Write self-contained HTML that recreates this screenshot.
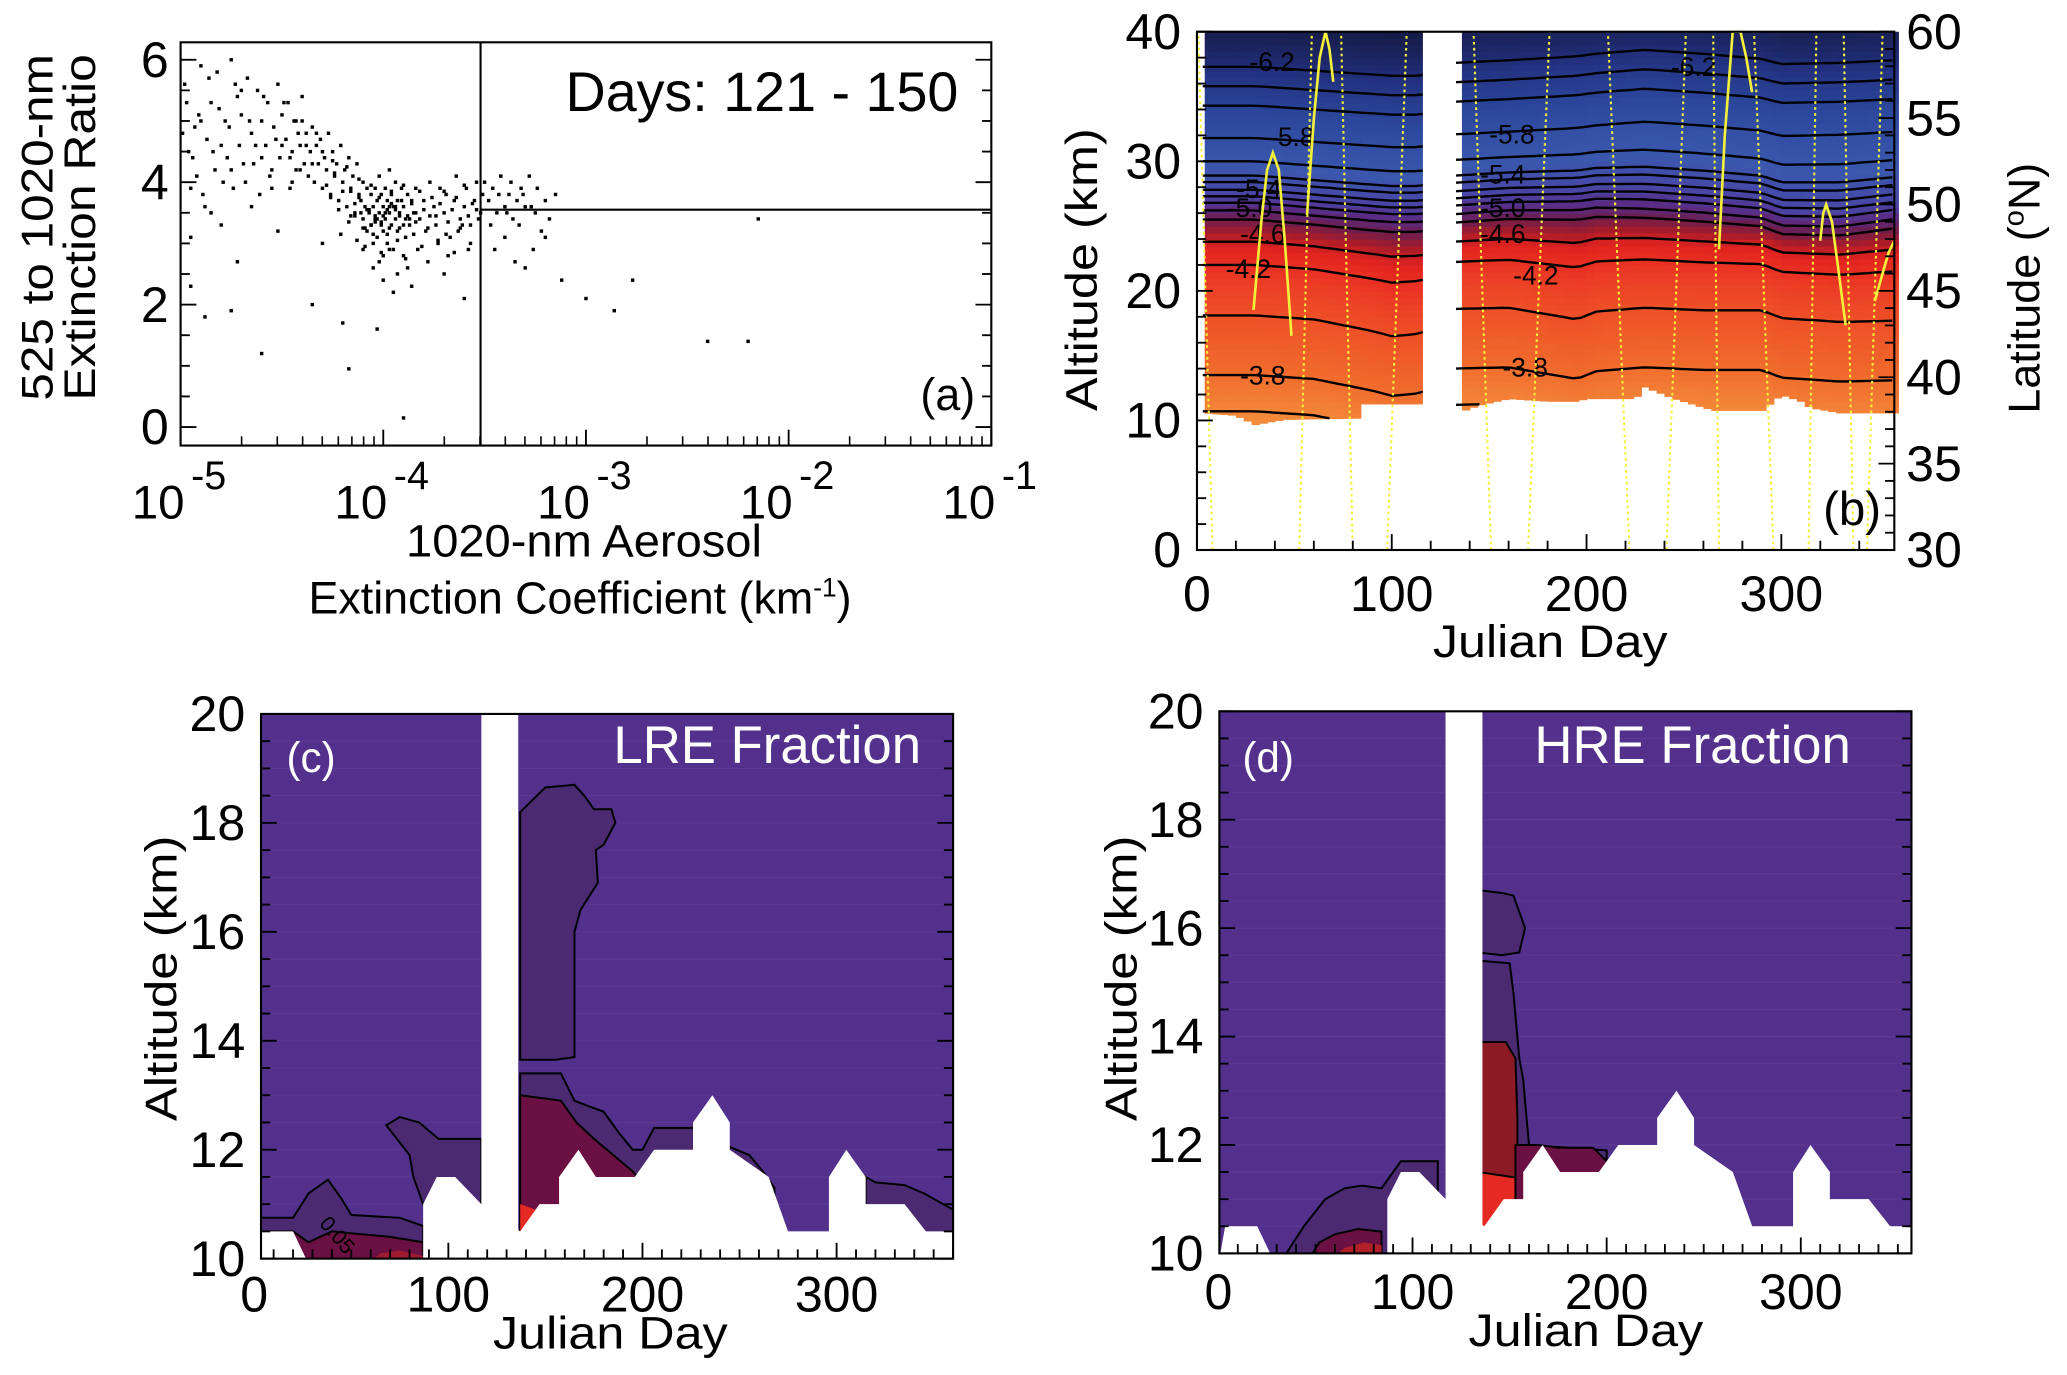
<!DOCTYPE html>
<html><head><meta charset="utf-8"><style>
html,body{margin:0;padding:0;background:#fff;}
svg{display:block;}
text{font-family:"Liberation Sans Narrow","Liberation Sans",sans-serif;fill:#000;}
.reg{font-family:"Liberation Sans",sans-serif;}
</style></head><body>
<svg id="fig" width="2067" height="1375" viewBox="0 0 1568 1040" preserveAspectRatio="none" xmlns="http://www.w3.org/2000/svg">
<defs>
<clipPath id="clipc"><rect x="198" y="540" width="525" height="412"/></clipPath>
<clipPath id="clipd"><rect x="925" y="538" width="525" height="410"/></clipPath>
</defs>
<rect x="0" y="0" width="1568" height="1040" fill="#fff"/>
<g id="pa"></g>
<g id="pb"></g>
<g id="pc"></g>
<g id="pd"></g>
</svg>
<script>
// ---------- Panel (a) data ----------
const logExt = [-4.98,-4.96,-4.95,-4.93,-4.92,-4.9,-4.88,-4.87,-4.85,-4.83,-4.82,-4.8,-4.78,-4.77,-4.75,-4.74,-4.72,-4.71,-4.7,-4.68,-4.67,-4.65,-4.64,-4.62,-4.61,-4.6,-4.58,-4.57,-4.55,-4.54,-4.52,-4.51,-4.5,-4.48,-4.47,-4.46,-4.45,-4.44,-4.43,-4.42,
-4.41,-4.4,-4.39,-4.38,-4.37,-4.36,-4.35,-4.34,-4.33,-4.32,-4.31,-4.3,-4.29,-4.28,-4.27,-4.26,-4.25,-4.24,-4.23,-4.22,-4.21,-4.2,-4.19,-4.18,-4.17,-4.16,-4.15,-4.14,-4.13,-4.12,
-4.11,-4.1,-4.1,-4.09,-4.08,-4.08,-4.07,-4.06,-4.06,-4.05,-4.05,-4.04,-4.04,-4.03,-4.03,-4.02,-4.02,-4.01,-4.01,-4.0,-4.0,-4.0,-3.99,-3.99,-3.98,-3.98,-3.97,-3.97,-3.96,-3.96,-3.95,-3.95,-3.94,-3.94,-3.93,-3.93,-3.92,-3.91,-3.9,-3.9,-3.89,-3.88,-3.87,-3.86,-3.85,
-3.84,-3.82,-3.8,-3.79,-3.77,-3.75,-3.74,-3.72,-3.7,-3.69,-3.67,-3.65,-3.64,-3.62,-3.6,-3.59,-3.57,-3.55,-3.54,-3.52,-3.51,-3.83,-3.78,-3.73,-3.68,-3.63,-3.58,-3.53,
-3.48,-3.46,-3.44,-3.42,-3.4,-3.38,-3.36,-3.34,-3.32,-3.3,-3.28,-3.25,-3.22,-3.45,-3.4,-3.35,-3.3,-3.26,
-4.05,-4.0,-3.97,-3.93,-3.9,-4.1,-3.95,-3.88,-4.02,-3.86,
-4.88,-4.75,-4.6,-4.35,-4.2,-4.17,-4.03,-3.9,-3.6,-3.7,-3.12,-3.0,-2.86,-2.77,-2.4,-2.2,-2.15,-3.2,-4.3,-4.72,-4.95,-4.52,
-4.14,-4.07,-4.01,-3.96,-3.92,-4.12,-4.06,-3.99,-3.94,-3.89,-4.09,-4.04,-3.98,-3.91,-3.87,-4.16,-4.11,-4.03,-3.97,-3.84,
-4.28,-4.26,-4.24,-4.22,-4.2,-4.18,-4.16,-4.14,-4.12,-4.1,-4.08,-4.06,-4.04,-4.02,-4.0,-3.98,-3.96,-3.94,-3.92,-3.9,-3.88,-3.86,-3.84,-3.82,-3.8,-3.78,-3.76,-3.74,-3.72,-3.7,-3.68,-3.66,-3.64,-3.62,-3.6,-3.58,-3.56,-3.54,
-4.25,-4.21,-4.17,-4.13,-4.09,-4.05,-4.01,-3.97,-3.93,-3.89,-3.85,-3.81,-3.77,-3.73,-3.69,-3.65,-3.61,-3.57,
-4.99,-4.97,-4.94,-4.91,-4.89,-4.86,-4.84,-4.81,-4.79,-4.76,-4.73,-4.69,-4.66,-4.63,-4.59,-4.56,-4.53,-4.49,-4.46,-4.43,-4.41,-4.38,-4.35,-4.33,-4.3,-4.95,-4.85,-4.75,-4.65,-4.55,-4.45,-4.9,-4.8,-4.7,-4.6,-4.5,-4.4,
-3.5,-3.47,-3.43,-3.39,-3.37,-3.33,-3.31,-3.27,-3.24,-3.2,-3.18,-3.15];
const ratio = [5.6,4.5,3.1,4.9,4.1,5.9,3.6,4.7,5.3,4.2,5.8,3.3,5.0,4.4,6.0,3.9,5.4,4.6,5.1,4.0,5.7,4.8,4.3,5.5,3.8,5.0,4.6,5.3,4.2,4.9,5.6,4.4,5.1,4.7,5.3,3.9,4.5,5.0,4.2,4.8,
4.6,5.0,4.3,4.8,4.1,4.5,4.9,4.0,4.6,4.3,4.7,3.9,4.4,4.2,4.8,3.8,4.5,4.1,4.3,3.7,4.6,4.0,4.2,3.6,4.4,3.9,4.1,3.5,4.3,3.8,
3.7,3.4,4.0,3.6,3.2,3.9,3.5,3.8,3.3,3.6,3.0,3.9,3.4,3.7,3.1,3.5,4.1,3.3,3.8,3.6,3.2,2.8,3.9,3.4,3.7,3.0,3.5,4.2,3.3,3.8,3.6,2.9,3.4,4.0,3.7,3.2,3.5,3.9,3.3,3.6,3.1,3.8,3.4,3.7,3.5,
3.9,3.4,3.7,3.2,4.0,3.6,3.3,3.9,3.5,3.8,3.1,3.7,4.1,3.4,3.6,3.9,3.3,3.7,4.0,3.5,3.8,2.9,2.7,3.0,2.8,3.2,2.9,3.4,
3.7,3.9,3.5,4.1,3.6,3.8,3.4,3.7,3.9,3.6,4.1,3.5,3.2,2.9,3.1,2.7,2.6,2.9,
2.6,2.4,2.9,2.5,2.8,2.9,2.2,2.6,2.7,2.3,
1.8,1.9,1.2,2.0,1.7,0.95,1.6,0.15,2.1,2.5,2.4,2.1,1.9,2.4,1.4,1.4,3.4,3.1,3.0,2.7,2.3,3.2,
3.45,3.55,3.35,3.65,3.45,3.75,3.3,3.5,3.6,3.4,3.25,3.45,3.55,3.7,3.3,3.85,3.5,3.4,3.6,3.5,
3.95,3.75,4.15,3.55,3.85,4.25,3.45,3.65,4.05,3.25,3.55,3.95,3.35,3.75,3.45,3.15,3.85,3.55,3.25,3.95,3.45,3.65,3.35,3.85,3.55,3.25,3.75,3.45,3.65,3.85,3.35,3.55,3.75,3.25,3.95,3.45,3.65,3.55,
4.35,3.15,3.35,3.05,2.95,3.15,2.85,3.25,3.05,2.75,3.15,2.95,3.45,3.05,3.15,2.85,3.3,3.0,
4.8,5.3,4.4,5.1,3.8,5.7,4.5,5.2,4.0,4.9,5.6,4.3,5.0,4.6,5.4,4.1,4.7,5.3,4.4,5.0,4.2,4.6,4.3,4.8,4.5,3.9,3.5,4.2,3.6,3.9,4.0,5.0,4.6,5.5,4.4,4.6,5.4,
4.0,3.3,3.8,3.5,4.0,3.3,3.8,3.6,3.9,3.7,3.4,3.8];
const xDecades = [-5,-4,-3,-2,-1];
const yTicksA = [0,2,4,6];
const thresholdLogExt = -3.52;
const thresholdRatio = 3.55;

// ---------- Panel (b) data ----------
const profileAlts   = [9,11,13,15,17,19,21,22.5,24,25,26,26.8,27.5,28.5,30,32,34,36,38,40.5];
const profileValues = [-3.55,-3.65,-3.75,-3.85,-3.95,-4.05,-4.15,-4.3,-4.5,-4.7,-4.9,-5.05,-5.2,-5.35,-5.55,-5.75,-5.95,-6.1,-6.3,-6.5];
const shiftDays = [0,30,60,90,100,115,132,160,195,205,230,260,290,300,330,358];
const shiftLow  = [0,0,-0.3,-1.2,-1.6,-1.4,0.5,0.6,-0.3,0.3,0.6,0.4,0.4,-0.2,-0.5,-0.4];
const shiftMid  = [0,0,-0.4,-0.8,-0.9,-0.9,-0.3,0,0,0.2,0.1,-0.2,-0.6,-1.2,-1.3,-0.7];
const shiftHigh = [0,0,-0.3,-0.6,-0.7,-0.7,0.3,0.5,0.8,1.0,1.3,1.0,0.6,0.2,0.3,0.5];
const contourAlts = [10.7,13.5,18.1,22.0,23.8,25.5,26.2,26.8,27.3,27.8,28.4,28.9,30.0,31.8,34.3,35.8,37.3];
const bBoundDays = [0,4,20,30,45,85,86,115,132,145,160,180,195,200,225,230,245,265,290,300,310,315,330,358];
const bBoundAlts = [10.6,10.6,10.4,9.7,10.1,10.2,11.3,11.3,10.5,11.2,11.7,11.5,11.5,11.7,11.7,12.6,11.7,10.8,10.8,12.0,11.5,11.0,10.6,10.6];
const gapDays = [116,133];
const labelText = ["-6.2","-5.8","-5.4","-5.0","-4.6","-4.2","-3.8","-5.8","-5.4","-5.0","-4.6","-4.2","-3.8","-6.2"];
const labelDay  = [38.6,48.7,31.8,27,33.8,26.4,33.8,161.7,157,157,157,174,168.5,255];
const labelAlt  = [37.7,31.9,27.9,26.4,24.4,21.7,13.5,32.1,29,26.4,24.4,21.2,14.1,37.3];
const trackBottomDay = [8,52.5,80,97.6,151,170,222,241,268,296,314,337,344];
const trackTopDay    = [0.7,59,74,107.7,142,181,211,251,265,286,318,332,352];
const arch1Day=[29,33,36,39,42,45,48.5], arch1Lat=[43.9,49,52,53,52,48,42.4];
const arch2Day=[56.5,60,63,66,68,70], arch2Lat=[49.4,55,58.5,60,59,57.1];
const arch3Day=[268,271,275,279,282,285], arch3Lat=[47.4,54,60,60,58.5,56.5];
const arch4Day=[320,321.5,323,326,329,333], arch4Lat=[47.9,49.5,50,49,46.5,43];
const arch5Day=[348,352,355,358], arch5Lat=[44.4,46,47.2,47.9];
const bXTicks=[0,100,200,300], bYTicks=[0,10,20,30,40], latTicks=[30,35,40,45,50,55,60];

// ---------- Panels (c),(d) data ----------
const fBoundDays = [3.5,20,28,87,87,94,103.5,117,137,147,157,157,167,176,196,206,226,226,236,245,245,265,275,296,296,305,315,315,335,346,360];
const fBoundAlts = [10.5,10.5,9.9,9.9,11.0,11.5,11.5,11.0,10.5,11.0,11.0,11.5,12.0,11.5,11.5,12.0,12.0,12.5,13.0,12.5,12.0,11.5,10.5,10.5,11.5,12.0,11.5,11.0,11.0,10.5,10.5];
const fGap = [117,136];
const cDarkDays1 = [137,150,165,170,175,184,186,180,176,177,168,165,165,155,137];
const cDarkAlts1 = [18.2,18.65,18.7,18.5,18.25,18.25,18.0,17.6,17.5,16.9,16.4,16.0,13.7,13.65,13.65];
const cDarkDays2 = [137,158,165,172,180,188,195,200,206,226,245,255,262,268,268,137];
const cDarkAlts2 = [13.4,13.4,12.9,12.8,12.7,12.3,12.0,12.0,12.4,12.4,12.05,11.9,11.6,11.3,10,10];
const cRedDays = [137,158,166,175,185,195,200,200,137];
const cRedAlts = [13.0,12.9,12.5,12.2,11.9,11.6,11.4,10,10];
const cBrightDays = [137,145,158,160,160,137];
const cBrightAlts = [11.0,10.9,11.0,11.6,10,10];
const cLeftDays = [3.5,20,28,38,45,50,75,87,87,3.5];
const cLeftAlts = [10.75,10.75,11.2,11.45,11.1,10.8,10.75,10.6,9.8,9.8];
const cLeftRedDays = [3.5,20,28,40,55,70,87,87,3.5];
const cLeftRedAlts = [10.5,10.5,10.3,10.5,10.45,10.4,10.3,9.8,9.8];
const cLeftBrightDays = [55,65,75,87,87,55];
const cLeftBrightAlts = [9.8,10.1,10.15,10.05,9.8,9.8];
const cBlobDays = [68,75,85,95,117,117,103,87,82,80];
const cBlobAlts = [12.45,12.6,12.5,12.2,12.2,11.0,11.0,11.0,11.5,11.9];
const cRightDays = [315,320,335,345,360,360,315];
const cRightAlts = [11.5,11.4,11.35,11.2,10.9,10,10];
const dBlob1Days = [134,146,152,155,158,155,146,134];
const dBlob1Alts = [16.7,16.65,16.6,16.3,16.0,15.55,15.5,15.55];
const dBlob2Days = [134,150,152,155,157,158,160,200,200,134];
const dBlob2Alts = [15.4,15.35,14.8,13.6,13.2,12.8,12.0,11.9,10,10];
const dCoreDays = [134,148,153,154,154,134];
const dCoreAlts = [13.9,13.9,13.6,12.5,10,10];
const dMaroonDays = [153,165,175,193,200,200,153];
const dMaroonAlts = [12.0,12.0,11.95,11.95,11.7,10,10];
const dBrightDays = [134,153,153,134];
const dBrightAlts = [11.5,11.4,10,10];
const dLeftDays = [24,28,35,44,55,65,74,84,94,113,113,24];
const dLeftAlts = [10,9.85,10.0,10.5,11.0,11.2,11.25,11.2,11.7,11.7,9.8,9.8];
const dLeftRedDays = [45,52,60,72,84,84,45];
const dLeftRedAlts = [9.8,10.2,10.35,10.45,10.4,9.8,9.8];
const dLeftBrightDays = [55,65,75,84,84,55];
const dLeftBrightAlts = [9.8,10.1,10.2,10.15,9.8,9.8];
const fracXTicks=[0,100,200,300], fracYTicks=[10,12,14,16,18,20];

// ---------- helpers ----------
const NS="http://www.w3.org/2000/svg";
function mk(parent,tag,attrs){const e=document.createElementNS(NS,tag);for(const k in attrs)e.setAttribute(k,attrs[k]);parent.appendChild(e);return e;}
function txt(parent,s,x,y,size,anchor,extra){const e=mk(parent,'text',Object.assign({x:x,y:y,'font-size':size,'text-anchor':anchor||'middle'},extra||{}));e.textContent=s;return e;}
function interp(xs,ys,x){if(x<=xs[0])return ys[0];for(let i=1;i<xs.length;i++){if(x<=xs[i]){const t=(x-xs[i-1])/(xs[i]-xs[i-1]||1);return ys[i-1]+t*(ys[i]-ys[i-1]);}}return ys[ys.length-1];}
function hex(c){return [parseInt(c.slice(1,3),16),parseInt(c.slice(3,5),16),parseInt(c.slice(5,7),16)];}

// ---------- Panel (a) ----------
(function(){
const g=document.getElementById('pa');
const L=137,R=752,T=32,B=337;
const ax=v=>L+(v+5)*(R-L)/4, ay=r=>323-r*46.3;
mk(g,'rect',{x:L,y:T,width:R-L,height:B-T,fill:'none',stroke:'#000','stroke-width':1.6,});
const pts=mk(g,'g',{});


for(let i=0;i<logExt.length;i++){
  const c=mk(pts,'rect',{x:(ax(logExt[i])-1.3).toFixed(1),y:(ay(ratio[i])-1.3).toFixed(1),width:2.6,height:2.6,fill:'#000'});
  
  
}
const vl=mk(g,'line',{x1:ax(thresholdLogExt),x2:ax(thresholdLogExt),y1:T,y2:B,stroke:'#000','stroke-width':1.6});


const hl=mk(g,'line',{x1:ax(thresholdLogExt),x2:R,y1:ay(thresholdRatio),y2:ay(thresholdRatio),stroke:'#000','stroke-width':1.6});


for(let r=0;r<=6;r+=0.5){const y=ay(r),len=(r%2===0)?12:7;
 mk(g,'line',{x1:L,x2:L+len,y1:y,y2:y,stroke:'#000','stroke-width':1.4});
 mk(g,'line',{x1:R,x2:R-len,y1:y,y2:y,stroke:'#000','stroke-width':1.4});}
yTicksA.forEach(r=>{const t=txt(g,String(r),128,ay(r)+13,38,'end');});
xDecades.forEach(d=>{const x=ax(d);
 mk(g,'line',{x1:x,x2:x,y1:B,y2:B-12,stroke:'#000','stroke-width':1.4});
 if(d<-1)for(let k=2;k<10;k++){const xm=ax(d+Math.log10(k));mk(g,'line',{x1:xm,x2:xm,y1:B,y2:B-7,stroke:'#000','stroke-width':1.2});}
 const t=txt(g,'10',x+3,392,36,'end');
 const s=txt(g,String(d),x+8,370,30,'start');});
let t;
t=txt(g,'Days: 121 - 150',578,84,42,'middle',{textLength:298,lengthAdjust:'spacingAndGlyphs'});
t=txt(g,'(a)',719,310,34,'middle');
t=txt(g,'525 to 1020-nm',0,0,34,'middle',{transform:'translate(40,172) rotate(-90)',class:'reg',textLength:262,lengthAdjust:'spacingAndGlyphs'});
t=txt(g,'Extinction Ratio',0,0,34,'middle',{transform:'translate(72,172) rotate(-90)',class:'reg',textLength:262,lengthAdjust:'spacingAndGlyphs'});
t=txt(g,'1020-nm Aerosol',443,421,34,'middle',{textLength:270,lengthAdjust:'spacingAndGlyphs'});
t=mk(g,'text',{x:440,y:464,'font-size':34,'text-anchor':'middle'});
t.innerHTML='Extinction Coefficient (km<tspan font-size="20" dy="-13">-1</tspan><tspan dy="13">)</tspan>';
})();

// ---------- Panel (b) ----------
(function(){
const g=document.getElementById('pb');
const L=908,R=1437,T=24,B=416;
const bx=d=>L+d*(R-L)/358, by=a=>B-a*(B-T)/40, blat=l=>B-(l-30)*(B-T)/30;
const cmapV=[-6.5,-6.2,-5.9,-5.5,-5.2,-5.0,-4.8,-4.6,-4.4,-4.2,-4.0,-3.8,-3.6];
const cmapC=['#161c48','#22307e','#2c489d','#3a58ae','#4a45a5','#5a2c85','#6e1d4c','#a81c2a','#e2231f','#ea3424','#ee5128','#f06a2c','#f48c3c'].map(hex);
function color(v){for(let i=1;i<cmapV.length;i++){if(v<=cmapV[i]||i===cmapV.length-1){let t=(v-cmapV[i-1])/(cmapV[i]-cmapV[i-1]);t=Math.max(0,Math.min(1,t));const a=cmapC[i-1],b=cmapC[i];return 'rgb('+a.map((c,k)=>Math.round(c+t*(b[k]-c))).join(',')+')';}}}
function shift(day,alt){const lo=interp(shiftDays,shiftLow,day),mi=interp(shiftDays,shiftMid,day),hi=interp(shiftDays,shiftHigh,day);
 if(alt<=20)return lo; if(alt<=26)return lo+(alt-20)/6*(mi-lo); if(alt<=32)return mi+(alt-26)/6*(hi-mi); return hi;}
const hm=mk(g,'g',{});


const dStep=4,aStep=0.5;
for(let d=4;d<358;d+=dStep){
 if(d+dStep>gapDays[0]&&d<gapDays[1])continue;
 const bnd=interp(bBoundDays,bBoundAlts,d+dStep/2);
 for(let a=9;a<40;a+=aStep){
  if(a+aStep<=bnd)continue;
  const a0=Math.max(a,bnd);
  const v=interp(profileAlts,profileValues,(a+aStep/2)-shift(d,a));
  const r=mk(hm,'rect',{x:bx(d).toFixed(1),y:by(a+aStep).toFixed(1),width:(bx(d+dStep)-bx(d)+0.6).toFixed(1),height:(by(a0)-by(a+aStep)+0.6).toFixed(1),fill:color(v)});
  
  
 }}
contourAlts.forEach(base=>{
 [[0,gapDays[0]],[gapDays[1],358]].forEach(seg=>{
  let pts=[];
  for(let d=seg[0];d<=seg[1];d+=4){const a=base+shift(d,base);const bnd=interp(bBoundDays,bBoundAlts,d);if(a<bnd||a>40){if(pts.length>1)break;pts=[];continue;}pts.push(bx(Math.max(d,3)).toFixed(1)+','+by(a).toFixed(1));}
  if(pts.length>1){const p=mk(g,'polyline',{points:pts.join(' '),fill:'none',stroke:'#000','stroke-width':1.8});
   
   }
 });});
for(let i=0;i<labelText.length;i++){const t=txt(g,labelText[i],bx(labelDay[i]),by(labelAlt[i])+7,20,'middle',{class:'reg'});
 
 }
for(let i=0;i<trackBottomDay.length;i++){const l=mk(g,'line',{x1:bx(trackBottomDay[i]),y1:blat(30),x2:bx(trackTopDay[i]),y2:blat(60),stroke:'#f4f03a','stroke-width':1.6,'stroke-dasharray':'2,2.5'});
 
 }
[[arch1Day,arch1Lat],[arch2Day,arch2Lat],[arch3Day,arch3Lat],[arch4Day,arch4Lat],[arch5Day,arch5Lat]].forEach(ar=>{
 const p=mk(g,'polyline',{points:ar[0].map((d,k)=>bx(d).toFixed(1)+','+blat(ar[1][k]).toFixed(1)).join(' '),fill:'none',stroke:'#f4f03a','stroke-width':2});
 
 });
const gp=mk(g,'rect',{x:bx(gapDays[0]),y:T,width:bx(gapDays[1])-bx(gapDays[0]),height:by(10)-T,fill:'#fff'});


mk(g,'rect',{x:L,y:T,width:R-L,height:B-T,fill:'none',stroke:'#000','stroke-width':1.6,});
for(let d=0;d<=358;d+=20){const x=bx(d),len=(d%100===0)?12:7;mk(g,'line',{x1:x,x2:x,y1:B,y2:B-len,stroke:'#000','stroke-width':1.4});}
for(let a=0;a<=40;a+=2){const y=by(a),len=(a%10===0)?12:7;mk(g,'line',{x1:L,x2:L+len,y1:y,y2:y,stroke:'#000','stroke-width':1.4});}
for(let l=30;l<=60;l+=1){const y=blat(l),len=(l%5===0)?12:7;mk(g,'line',{x1:R,x2:R-len,y1:y,y2:y,stroke:'#000','stroke-width':1.4});}
bXTicks.forEach(d=>{const t=txt(g,String(d),bx(d),462,38,'middle');});
bYTicks.forEach(a=>{const t=txt(g,String(a),896,by(a)+13,38,'end');});
latTicks.forEach(l=>{const t=txt(g,String(l),1446,blat(l)+13,38,'start');});
let t;
t=txt(g,'(b)',1405,397,36,'middle');
t=txt(g,'Julian Day',1176,497,34,'middle',{class:'reg',textLength:178,lengthAdjust:'spacingAndGlyphs'});
t=txt(g,'Altitude (km)',0,0,34,'middle',{class:'reg',transform:'translate(832,204) rotate(-90)',textLength:214,lengthAdjust:'spacingAndGlyphs'});
t=mk(g,'text',{x:0,y:0,'font-size':34,'text-anchor':'middle',class:'reg',transform:'translate(1547,218) rotate(-90)'});
t.innerHTML='Latitude (<tspan font-size="22" dy="-12">o</tspan><tspan dy="12">N)</tspan>';
})();

// ---------- Panels (c),(d) ----------
function fracPanel(id,clip,L,R,T,B,dmin,dmax,polys,title,tx,label,lx,ytl,ytx,xtY,ttlX,xtitleY){
 const g=document.getElementById(id);
 const fx=d=>L+(d-dmin)*(R-L)/(dmax-dmin), fy=a=>B-(a-10)*(B-T)/10;
 const inner=mk(g,'g',{'clip-path':'url(#'+clip+')'});
 const base=mk(inner,'rect',{x:L,y:T,width:R-L,height:B-T,fill:'#52308c'});
 
 
 for(let y=10.5;y<20;y+=0.5)mk(inner,'line',{x1:L,x2:R,y1:fy(y),y2:fy(y),stroke:'#5b3995','stroke-width':0.8});
 polys.forEach(p=>{const e=mk(inner,'polygon',{points:p[0].map((d,k)=>fx(Math.max(dmin,Math.min(dmax,d))).toFixed(1)+','+fy(p[1][k]).toFixed(1)).join(' '),fill:p[2],stroke:p[3]?'#000':'none','stroke-width':1.5});
  
  });
 const wp=[fx(dmin)+','+(B+4)];fBoundDays.forEach((d,k)=>wp.push(fx(Math.max(dmin,Math.min(dmax,d))).toFixed(1)+','+fy(fBoundAlts[k]).toFixed(1)));wp.push(fx(dmax)+','+(B+4));
 const w=mk(inner,'polygon',{points:wp.join(' '),fill:'#fff'});
 
 
 const gp=mk(inner,'rect',{x:fx(fGap[0]),y:T,width:fx(fGap[1])-fx(fGap[0]),height:B-T,fill:'#fff'});
 
 
 mk(g,'rect',{x:L,y:T,width:R-L,height:B-T,fill:'none',stroke:'#000','stroke-width':1.6,});
 for(let d=0;d<=dmax;d+=10){if(d<dmin)continue;const x=fx(d),len=(d%100===0)?12:7;mk(g,'line',{x1:x,x2:x,y1:B,y2:B-len,stroke:'#000','stroke-width':1.4});}
 for(let a=10;a<=20;a+=0.5){const y=fy(a),len=(a%2===0)?12:7;mk(g,'line',{x1:L,x2:L+len,y1:y,y2:y,stroke:'#000','stroke-width':1.4});mk(g,'line',{x1:R,x2:R-len,y1:y,y2:y,stroke:'#000','stroke-width':1.4});}
 fracXTicks.forEach(d=>{const t=txt(g,String(d),fx(d),xtY,38,'middle');});
 fracYTicks.forEach(a=>{const t=txt(g,String(a),ytx,fy(a)+13,38,'end');});
 let t;
 t=txt(g,title,tx,577,40,'middle',{class:'reg',style:'fill:#fff'});
 t=txt(g,label,lx,584,32,'middle',{class:'reg',style:'fill:#fff'});
 t=txt(g,'Julian Day',ttlX,xtitleY,34,'middle',{class:'reg',textLength:178,lengthAdjust:'spacingAndGlyphs'});
 t=txt(g,'Altitude (km)',0,0,34,'middle',{class:'reg',transform:'translate('+ytl+',740) rotate(-90)',textLength:216,lengthAdjust:'spacingAndGlyphs'});
 return {g,fx,fy};
}
const DP='#4b2a72', MR='#6a1042', RD='#e42a22', CR='#8c1a24';
const pc=fracPanel('pc','clipc',198,723,540,952,3.5,360,[
 [cDarkDays1,cDarkAlts1,DP,true],[cDarkDays2,cDarkAlts2,DP,true],[cRedDays,cRedAlts,MR,true],[cBrightDays,cBrightAlts,RD,false],
 [cLeftDays,cLeftAlts,DP,true],[cLeftRedDays,cLeftRedAlts,MR,true],[cLeftBrightDays,cLeftBrightAlts,'#a01a30',false],[cBlobDays,cBlobAlts,DP,true],[cRightDays,cRightAlts,DP,true]
],'LRE Fraction',582,'(c)',236,134,186,992,463,1020);
(function(){const t=txt(pc.g,'0.05',0,0,16,'middle',{class:'reg',transform:'translate('+pc.fx(40)+','+pc.fy(10.35)+') rotate(50)'});})();
fracPanel('pd','clipd',925,1450,538,948,0.5,357,[
 [dBlob1Days,dBlob1Alts,DP,true],[dBlob2Days,dBlob2Alts,DP,true],[dCoreDays,dCoreAlts,CR,true],[dMaroonDays,dMaroonAlts,MR,true],[dBrightDays,dBrightAlts,RD,true],
 [dLeftDays,dLeftAlts,DP,true],[dLeftRedDays,dLeftRedAlts,MR,true],[dLeftBrightDays,dLeftBrightAlts,'#b02028',false]
],'HRE Fraction',1284,'(d)',962,862,913,990,1203,1018);
</script>
</body></html>
